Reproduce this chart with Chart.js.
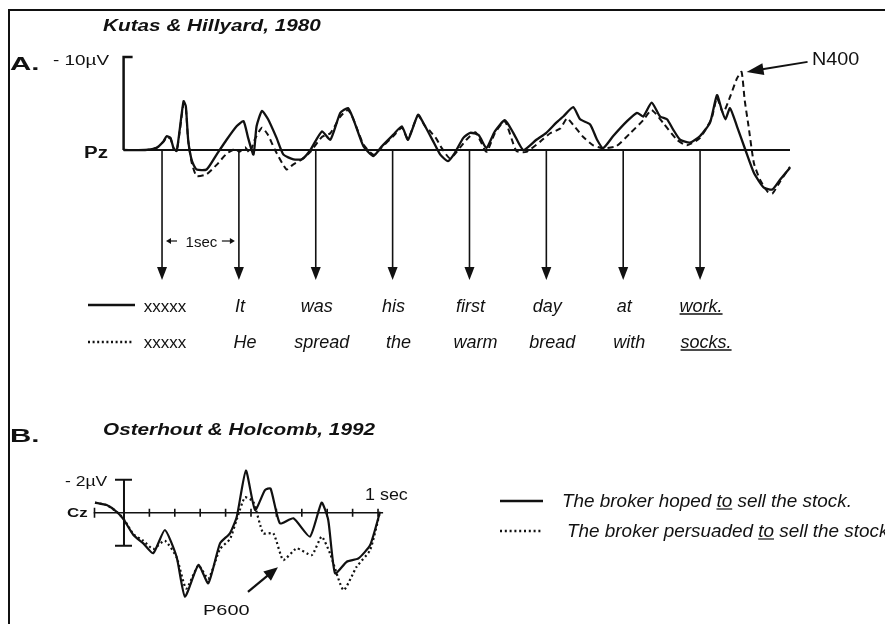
<!DOCTYPE html>
<html>
<head>
<meta charset="utf-8">
<script src="https://cdn.jsdelivr.net/npm/chart.js@4.4.0/dist/chart.umd.min.js"></script>
<style>
html, body { margin: 0; padding: 0; background: #fff; }
#wrap { position: relative; width: 885px; height: 624px; overflow: hidden; background: #fff; }
canvas { position: absolute; left: 0; top: 0; }
</style>
</head>
<body>
<div id="wrap">
<canvas id="chartA" width="885" height="624"></canvas>
<canvas id="chartB" width="885" height="624"></canvas>
</div>
<script>
// Panel A - Kutas & Hillyard 1980, Pz. time in s from first stimulus, uV (negative plotted up)
var timeA_solid = [-0.50, -0.22, -0.07, 0.02, 0.06, 0.11, 0.15, 0.19, 0.23, 0.28, 0.31, 0.34, 0.39, 0.45, 0.58,
    0.71, 0.84, 0.97, 1.06, 1.12, 1.19, 1.23, 1.30, 1.38, 1.49, 1.58, 1.71, 1.82, 1.93, 2.08,
    2.19, 2.32, 2.42, 2.49, 2.62, 2.75, 2.86, 3.01, 3.12, 3.20, 3.33, 3.40, 3.53, 3.62, 3.72,
    3.81, 3.92, 4.01, 4.12, 4.22, 4.33, 4.46, 4.57, 4.70, 4.87, 5.00, 5.13, 5.22, 5.35, 5.44,
    5.57, 5.66, 5.74, 5.87, 6.05, 6.18, 6.26, 6.37, 6.48, 6.57, 6.65, 6.74, 6.87, 7.00, 7.13,
    7.22, 7.28, 7.33, 7.39, 7.48, 7.59, 7.70, 7.83, 7.94, 8.04, 8.17];
var solidA = [0, 0, -0.24, -0.95, -1.48, -1.3, -0.2, 0.1, -2.2, -5.25, -4.7, -1.1, 1.2, 2.1, 2.1,
    0.5, -1.1, -2.55, -3.1, -1.3, 0.5, -2.55, -4.2, -3.3, -1.3, 0.5, 1.0, 1.0, 0, -2.0,
    -1.1, -4.0, -4.5, -3.3, -0.4, 0.65, -0.4, -1.65, -2.55, -1.1, -3.8, -2.9, -0.9, 0.5, 1.2,
    0.3, -1.3, -1.85, -1.6, -0.2, -2.0, -3.2, -1.85, 0, -1.1, -1.85, -2.95, -3.6, -4.6, -3.3,
    -2.75, -1.1, -0.2, -1.5, -3.1, -4.0, -3.6, -5.1, -3.6, -3.3, -2.2, -1.1, -0.8, -1.5, -2.95,
    -5.9, -4.35, -3.3, -4.5, -2.55, 0, 2.45, 4.05, 4.25, 3.2, 1.9];

var timeA_dashed = [-0.50, -0.22, -0.07, 0.02, 0.06, 0.11, 0.15, 0.19, 0.23, 0.28, 0.31, 0.34, 0.39, 0.45, 0.58,
    0.71, 0.84, 0.95, 1.01, 1.08, 1.14, 1.21, 1.30, 1.38, 1.47, 1.62, 1.70, 1.82, 1.93, 2.08,
    2.19, 2.32, 2.42, 2.49, 2.62, 2.75, 2.86, 3.01, 3.12, 3.20, 3.33, 3.42, 3.49, 3.57, 3.64,
    3.75, 3.96, 4.08, 4.22, 4.33, 4.46, 4.61, 4.74, 4.92, 5.05, 5.18, 5.27, 5.35, 5.48, 5.61,
    5.74, 5.91, 6.09, 6.26, 6.37, 6.52, 6.70, 6.83, 7.00, 7.15, 7.22, 7.30, 7.39, 7.48, 7.54,
    7.58, 7.63, 7.70, 7.78, 7.88, 7.94, 8.04, 8.17];
var dashedA = [0, 0, -0.24, -0.9, -1.4, -1.2, -0.2, 0.1, -2.0, -5.0, -4.5, -1.0, 1.5, 2.8, 2.6,
    1.6, 0.4, -0.1, 0.2, -0.3, 0.3, -1.2, -2.4, -1.6, 0, 2.1, 1.6, 1.0, 0.2, -1.4,
    -1.8, -3.6, -4.3, -3.3, -0.6, 0.5, -0.3, -1.5, -2.4, -1.2, -3.7, -2.6, -2.0, -1.2, -0.2,
    0.9, -1.1, -1.9, 0.2, -1.8, -3.1, 0.1, 0.2, -0.9, -1.8, -2.3, -3.4, -2.7, -1.4, -0.5,
    -0.2, -0.4, -1.8, -3.2, -4.3, -2.9, -1.1, -0.5, -1.3, -3.4, -5.6, -4.0, -5.7, -7.7, -8.4,
    -5.4, -2.6, 1.4, 3.2, 4.5, 4.7, 3.4, 1.8];

// stimulus onsets (s) and the two sentences
var onsetsA = [0, 1, 2, 3, 4, 5, 6, 7];
var wordsSolid = ['xxxxx', 'It', 'was', 'his', 'first', 'day', 'at', 'work.'];
var wordsDashed = ['xxxxx', 'He', 'spread', 'the', 'warm', 'bread', 'with', 'socks.'];

// Panel B - Osterhout & Holcomb 1992, Cz. time in ms, uV (negative plotted up)
var timeB_solid = [-114, -68, -29, 0, 37, 76, 115, 161, 207, 240, 293, 332, 378, 417, 444,
    480, 516, 555, 577, 614, 667, 732, 778, 804, 831, 877, 923, 969, 1008];
var solidB = [-0.61, -0.46, -0.06, 0.44, 1.35, 1.86, 2.46, 1.05, 2.67, 5.09, 3.17, 4.28, 1.86, 1.25, 0.24,
    -2.55, -0.16, -1.37, -1.47, 0.65, 0.34, 1.45, -0.61, 0.44, 3.68, 2.97, 2.77, 1.96, -0.06];
var timeB_dotted = [-114, -68, -29, 0, 37, 76, 115, 161, 207, 245, 293, 332, 378, 417, 444,
    476, 509, 548, 588, 627, 680, 739, 778, 811, 864, 916, 969, 1008];
var dottedB = [-0.61, -0.46, -0.06, 0.4, 1.3, 1.7, 2.2, 1.7, 2.7, 4.6, 3.2, 4.0, 2.2, 1.6, 0.4,
    -0.93, -0.67, 1.25, 1.25, 2.87, 2.16, 2.57, 1.45, 2.46, 4.69, 3.27, 2.26, -0.06];
var tickTimesB = [0, 100, 200, 300, 400, 500, 600, 700, 800, 900, 1000];

var FONT = "'Liberation Sans', Arial, sans-serif";
var INK = '#111';

function toPoints(ts, vs) {
    return ts.map(function(t, i) { return { x: t, y: vs[i] }; });
}

function drawText(ctx, s, x, y, font, sx, align) {
    ctx.save();
    ctx.font = font;
    ctx.textAlign = align || 'left';
    ctx.textBaseline = 'alphabetic';
    ctx.fillStyle = INK;
    ctx.translate(x, y);
    ctx.scale(sx || 1, 1);
    ctx.fillText(s, 0, 0);
    var w = ctx.measureText(s).width * (sx || 1);
    ctx.restore();
    return w;
}

function arrow(ctx, x0, y0, x1, y1, len, half, lw) {
    var a = Math.atan2(y1 - y0, x1 - x0);
    var bx = x1 - len * Math.cos(a), by = y1 - len * Math.sin(a);
    ctx.lineWidth = lw;
    ctx.beginPath();
    ctx.moveTo(x0, y0);
    ctx.lineTo(bx + 1 * Math.cos(a), by + 1 * Math.sin(a));
    ctx.stroke();
    ctx.beginPath();
    ctx.moveTo(x1, y1);
    ctx.lineTo(bx + half * Math.sin(a), by - half * Math.cos(a));
    ctx.lineTo(bx - half * Math.sin(a), by + half * Math.cos(a));
    ctx.closePath();
    ctx.fill();
}

var panelA = {
    id: 'panelA',
    beforeDatasetsDraw: function(chart) {
        var ctx = chart.ctx, x = chart.scales.x, y = chart.scales.y;
        var y0 = y.getPixelForValue(0);
        var xa = x.getPixelForValue(x.min);
        ctx.save();
        ctx.strokeStyle = INK;
        ctx.fillStyle = INK;
        // frame
        ctx.lineWidth = 2;
        ctx.beginPath();
        ctx.moveTo(9, 624); ctx.lineTo(9, 10); ctx.lineTo(885, 10);
        ctx.stroke();
        // -10 uV calibration
        ctx.lineWidth = 2.5;
        ctx.beginPath();
        ctx.moveTo(xa + 9, y.getPixelForValue(-10));
        ctx.lineTo(xa, y.getPixelForValue(-10));
        ctx.lineTo(xa, y0);
        ctx.stroke();
        // baseline
        ctx.lineWidth = 2;
        ctx.beginPath();
        ctx.moveTo(xa, y0);
        ctx.lineTo(x.getPixelForValue(timeA_solid[timeA_solid.length - 1]), y0);
        ctx.stroke();
        // stimulus arrows
        onsetsA.forEach(function(t) {
            var px = x.getPixelForValue(t);
            arrow(ctx, px, y0, px, y0 + 130, 13, 5, 1.6);
        });
        ctx.restore();
    },
    afterDraw: function(chart) {
        var ctx = chart.ctx, x = chart.scales.x, y = chart.scales.y;
        var y0 = y.getPixelForValue(0);
        ctx.save();
        ctx.strokeStyle = INK;
        ctx.fillStyle = INK;
        drawText(ctx, 'Kutas & Hillyard, 1980', 103, 31, 'italic bold 17px ' + FONT, 1.22);
        drawText(ctx, 'A.', 10, 70, 'bold 19px ' + FONT, 1.55);
        drawText(ctx, '- 10\u00b5V', 53, 65, '14px ' + FONT, 1.35);
        drawText(ctx, 'Pz', 84, y0 + 8, 'bold 16px ' + FONT, 1.28);

        // 1 sec marker between the first two onsets
        var p0 = x.getPixelForValue(onsetsA[0]), p1 = x.getPixelForValue(onsetsA[1]);
        drawText(ctx, '1sec', (p0 + p1) / 2 + 1, 246.5, '15px ' + FONT, 1.0, 'center');
        arrow(ctx, p0 + 15, 241, p0 + 4, 241, 5, 3, 1.2);
        arrow(ctx, p1 - 17, 241, p1 - 4, 241, 5, 3, 1.2);

        // the two sentences
        for (var i = 0; i < onsetsA.length; i++) {
            var px = x.getPixelForValue(onsetsA[i]);
            var f = i === 0 ? '17px ' + FONT : 'italic 18px ' + FONT;
            var d1 = i === 0 ? 3 : 1, d2 = i === 0 ? 3 : 6;
            var w1 = drawText(ctx, wordsSolid[i], px + d1, 312, f, 1, 'center');
            var w2 = drawText(ctx, wordsDashed[i], px + d2, 347.5, f, 1, 'center');
            if (i === onsetsA.length - 1) {
                ctx.lineWidth = 1.3;
                ctx.beginPath();
                ctx.moveTo(px + d1 - w1 / 2, 314); ctx.lineTo(px + d1 + w1 / 2, 314);
                ctx.moveTo(px + d2 - w2 / 2, 350); ctx.lineTo(px + d2 + w2 / 2, 350);
                ctx.stroke();
            }
        }
        // line samples in front of the sentences
        ctx.lineWidth = 2.5;
        ctx.beginPath();
        ctx.moveTo(88, 305); ctx.lineTo(135, 305);
        ctx.stroke();
        ctx.setLineDash([2, 2.6]);
        ctx.beginPath();
        ctx.moveTo(88, 342); ctx.lineTo(134, 342);
        ctx.stroke();
        ctx.setLineDash([]);

        // N400 label pointing at the dashed peak
        var k = dashedA.indexOf(Math.min.apply(null, dashedA));
        var tx = x.getPixelForValue(timeA_dashed[k]) + 5, ty = y.getPixelForValue(dashedA[k]);
        arrow(ctx, tx + 61, ty - 10, tx, ty, 17, 6, 2);
        drawText(ctx, 'N400', 812, 65, '18px ' + FONT, 1.1);
        ctx.restore();
    }
};

var panelB = {
    id: 'panelB',
    beforeDatasetsDraw: function(chart) {
        var ctx = chart.ctx, x = chart.scales.x, y = chart.scales.y;
        var y0 = y.getPixelForValue(0);
        var xc = x.getPixelForValue(0);
        ctx.save();
        ctx.strokeStyle = INK;
        ctx.fillStyle = INK;
        // baseline with 100 ms ticks
        ctx.lineWidth = 1.6;
        ctx.beginPath();
        ctx.moveTo(x.getPixelForValue(x.min), y0);
        ctx.lineTo(x.getPixelForValue(x.max), y0);
        ctx.moveTo(x.getPixelForValue(x.min) + 1, y0 - 5);
        ctx.lineTo(x.getPixelForValue(x.min) + 1, y0 + 5);
        tickTimesB.forEach(function(t) {
            var px = x.getPixelForValue(t);
            ctx.moveTo(px, y0 - 4);
            ctx.lineTo(px, y0 + 4);
        });
        ctx.stroke();
        // +-2 uV calibration bar
        ctx.lineWidth = 2;
        ctx.beginPath();
        ctx.moveTo(xc - 9, y.getPixelForValue(-2)); ctx.lineTo(xc + 8, y.getPixelForValue(-2));
        ctx.moveTo(xc, y.getPixelForValue(-2)); ctx.lineTo(xc, y.getPixelForValue(2));
        ctx.moveTo(xc - 9, y.getPixelForValue(2)); ctx.lineTo(xc + 8, y.getPixelForValue(2));
        ctx.stroke();
        ctx.restore();
    },
    afterDraw: function(chart) {
        var ctx = chart.ctx, x = chart.scales.x, y = chart.scales.y;
        var y0 = y.getPixelForValue(0);
        ctx.save();
        ctx.strokeStyle = INK;
        ctx.fillStyle = INK;
        drawText(ctx, 'Osterhout & Holcomb, 1992', 103, 435, 'italic bold 17px ' + FONT, 1.22);
        drawText(ctx, 'B.', 10, 442, 'bold 19px ' + FONT, 1.55);
        drawText(ctx, '- 2\u00b5V', 65, y.getPixelForValue(-2) + 6, '14px ' + FONT, 1.25);
        drawText(ctx, 'Cz', 67, y0 + 4.5, 'bold 13px ' + FONT, 1.3);
        drawText(ctx, '1 sec', 365, 500, '16px ' + FONT, 1.12);

        // P600 arrow
        arrow(ctx, x.getPixelForValue(488), y.getPixelForValue(4.8),
            x.getPixelForValue(606), y.getPixelForValue(3.3), 14, 6, 2.2);
        drawText(ctx, 'P600', 203, 615, '15px ' + FONT, 1.33);

        // legend
        ctx.lineWidth = 2.5;
        ctx.beginPath();
        ctx.moveTo(500, 501); ctx.lineTo(543, 501);
        ctx.stroke();
        ctx.setLineDash([2, 2.8]);
        ctx.beginPath();
        ctx.moveTo(500, 531); ctx.lineTo(543, 531);
        ctx.stroke();
        ctx.setLineDash([]);

        var f = 'italic 18px ' + FONT, sx = 1.05;
        var rows = [['The broker hoped ', 'to', ' sell the stock.', 562, 506.5],
                    ['The broker persuaded ', 'to', ' sell the stock.', 567, 536.5]];
        ctx.lineWidth = 1.2;
        rows.forEach(function(r) {
            var cx = r[3];
            cx += drawText(ctx, r[0], cx, r[4], f, sx);
            var wt = drawText(ctx, r[1], cx, r[4], f, sx);
            ctx.beginPath();
            ctx.moveTo(cx, r[4] + 2.5); ctx.lineTo(cx + wt, r[4] + 2.5);
            ctx.stroke();
            cx += wt;
            drawText(ctx, r[2], cx, r[4], f, sx);
        });
        ctx.restore();
    }
};

function lineSet(label, pts, dash, width) {
    return {
        label: label,
        data: pts,
        borderColor: INK,
        borderWidth: width,
        borderDash: dash,
        pointRadius: 0,
        tension: 0.18,
        fill: false,
        clip: false
    };
}

var chartA = new Chart(document.getElementById('chartA'), {
    type: 'line',
    data: {
        datasets: [
            lineSet('It was his first day at work.', toPoints(timeA_solid, solidA), [], 2.3),
            lineSet('He spread the warm bread with socks.', toPoints(timeA_dashed, dashedA), [6, 4], 2)
        ]
    },
    options: {
        responsive: false,
        animation: false,
        parsing: false,
        layout: { padding: { left: 123.6, right: 92.7, top: 57, bottom: 381 } },
        plugins: { legend: { display: false }, title: { display: false }, tooltip: { enabled: false } },
        scales: {
            x: { type: 'linear', min: -0.5, max: 8.2, display: false },
            y: { type: 'linear', min: -10, max: 10, reverse: true, display: false }
        }
    },
    plugins: [panelA]
});

var chartB = new Chart(document.getElementById('chartB'), {
    type: 'line',
    data: {
        datasets: [
            lineSet('The broker hoped to sell the stock.', toPoints(timeB_solid, solidB), [], 2.2),
            lineSet('The broker persuaded to sell the stock.', toPoints(timeB_dotted, dottedB), [2, 2.8], 2.2)
        ]
    },
    options: {
        responsive: false,
        animation: false,
        parsing: false,
        layout: { padding: { left: 93.5, right: 501.9, top: 446.7, bottom: 12.3 } },
        plugins: { legend: { display: false }, title: { display: false }, tooltip: { enabled: false } },
        scales: {
            x: { type: 'linear', min: -120, max: 1020, display: false },
            y: { type: 'linear', min: -4, max: 6, reverse: true, display: false }
        }
    },
    plugins: [panelB]
});
</script>
</body>
</html>
